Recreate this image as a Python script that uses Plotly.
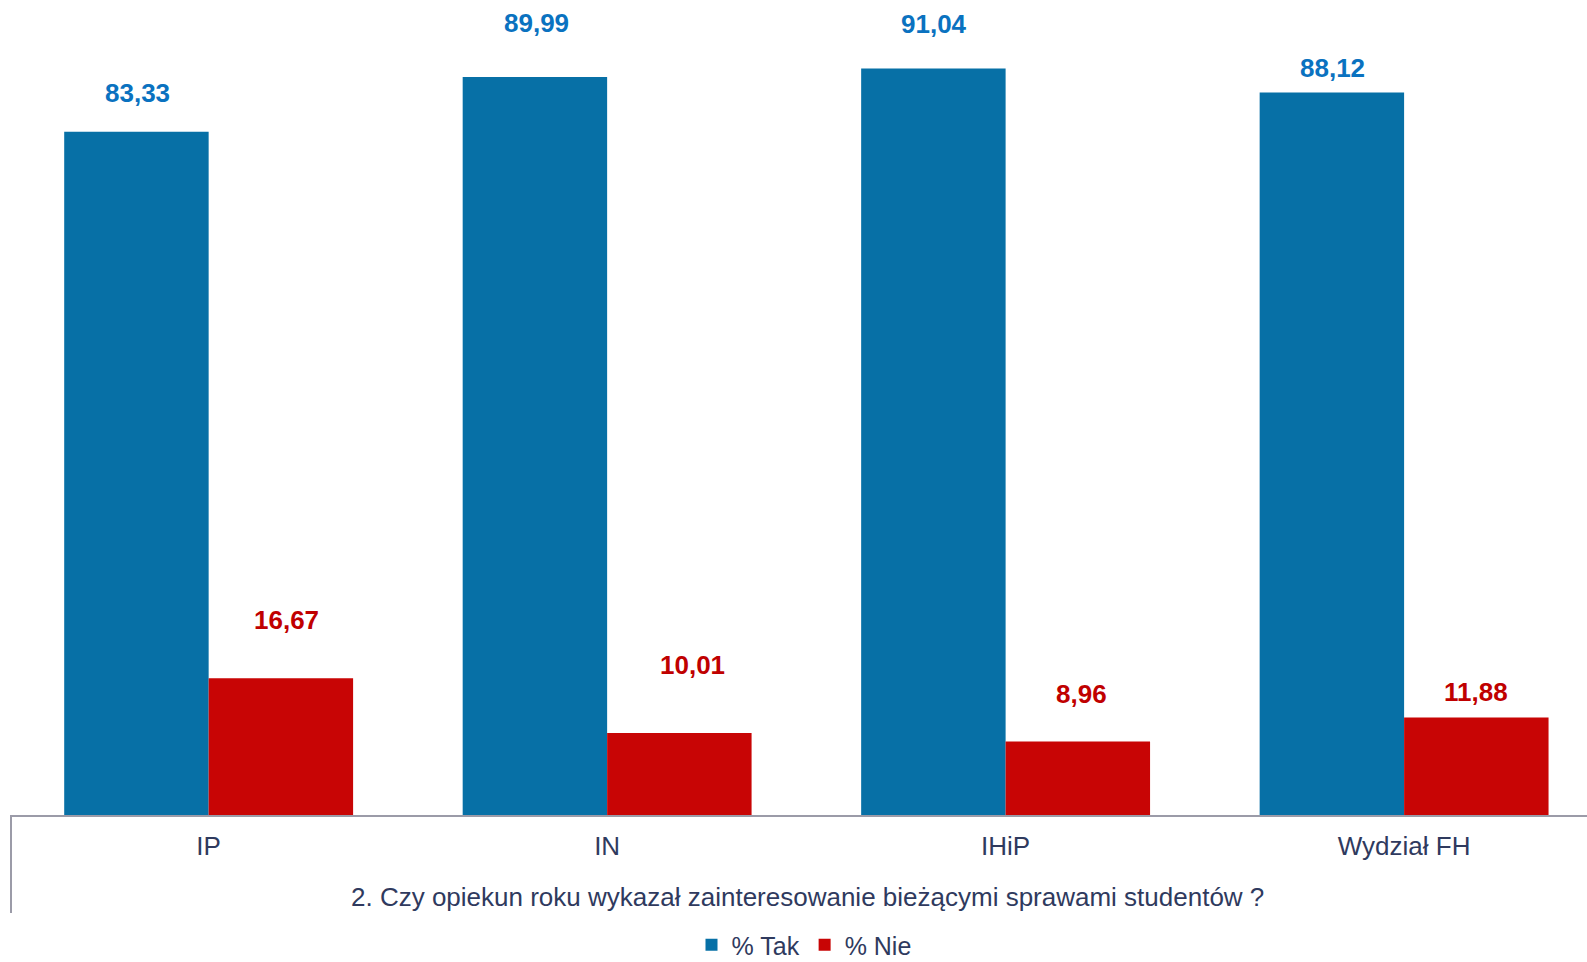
import plotly.graph_objects as go

categories = ["IP", "IN", "IHiP", "Wydział FH"]
tak = [83.33, 89.99, 91.04, 88.12]
nie = [16.67, 10.01, 8.96, 11.88]
series_names = ["% Tak", "% Nie"]
axis_title = "2. Czy opiekun roku wykazał zainteresowanie bieżącymi sprawami studentów ?"

# label placement (pixels above the bar top / sideways from the bar centre), as in the original
tak_label_dy = [39, 54, 44, 24]
tak_label_dx = [1, 1, 0, 0]
nie_label_dy = [58, 68, 48, 26]
nie_label_dx = [6, 13, 4, 0]

FONT = "Arial, Liberation Sans, sans-serif"
BLUE = "#0770A6"
RED = "#C80505"
BLUE_TXT = "#0A72C0"
RED_TXT = "#C00000"
NAVY = "#2F3A5E"
GRAY = "#9B9BA8"

W, H = 1587, 962
AX_Y = 815   # pixel of the axis line
L = 11
PLOT_W = W - L
HALF_BAR = 72

fig = go.Figure()
fig.add_trace(go.Bar(x=categories, y=tak, name=series_names[0], marker_color=BLUE,
                     marker_line_width=0))
fig.add_trace(go.Bar(x=categories, y=nie, name=series_names[1], marker_color=RED,
                     marker_line_width=0))

def fmt(v):
    return f"{v:.2f}".replace(".", ",")

annots = []
for c, v, dx, dy in zip(categories, tak, tak_label_dx, tak_label_dy):
    annots.append(dict(x=c, y=v, xref="x", yref="y", text=f"<b>{fmt(v)}</b>", showarrow=False,
                       xshift=-HALF_BAR + dx, yshift=dy,
                       font=dict(family=FONT, size=26, color=BLUE_TXT)))
for c, v, dx, dy in zip(categories, nie, nie_label_dx, nie_label_dy):
    annots.append(dict(x=c, y=v, xref="x", yref="y", text=f"<b>{fmt(v)}</b>", showarrow=False,
                       xshift=HALF_BAR + dx, yshift=dy,
                       font=dict(family=FONT, size=26, color=RED_TXT)))

annots.append(dict(x=(807 - L) / PLOT_W, y=-(897 - AX_Y) / AX_Y, xref="paper", yref="paper",
                   text=axis_title, showarrow=False, xanchor="center", yanchor="middle",
                   font=dict(family=FONT, size=26, color=NAVY)))

fig.update_layout(
    width=W, height=H,
    margin=dict(l=L, r=0, t=0, b=H - AX_Y, pad=0, autoexpand=False),
    paper_bgcolor="white", plot_bgcolor="white",
    barmode="group", bargap=0.275, bargroupgap=0,
    showlegend=True,
    legend=dict(orientation="h", x=(804 - L) / PLOT_W, xanchor="center",
                y=-(945 - AX_Y) / AX_Y, yanchor="middle",
                font=dict(family=FONT, size=25, color=NAVY),
                itemwidth=30, tracegroupgap=0, bgcolor="rgba(0,0,0,0)"),
    annotations=annots,
    font=dict(family=FONT, color=NAVY),
)
fig.update_xaxes(range=[-0.496, 3.459], showline=True, linecolor=GRAY, linewidth=2,
                 showgrid=False, zeroline=False, ticks="",
                 tickfont=dict(family=FONT, size=26, color=NAVY), ticklabelstandoff=7)
fig.update_yaxes(range=[0, 99.39], visible=False, showgrid=False)

fig.add_shape(type="line", xref="paper", yref="paper", x0=0, x1=0,
              y0=0, y1=-(913 - AX_Y) / AX_Y, line=dict(color=GRAY, width=2))

fig.write_html(
    "out.html",
    config={"displayModeBar": False},
    post_script="document.body.style.margin='0';document.body.style.overflow='hidden';",
)
